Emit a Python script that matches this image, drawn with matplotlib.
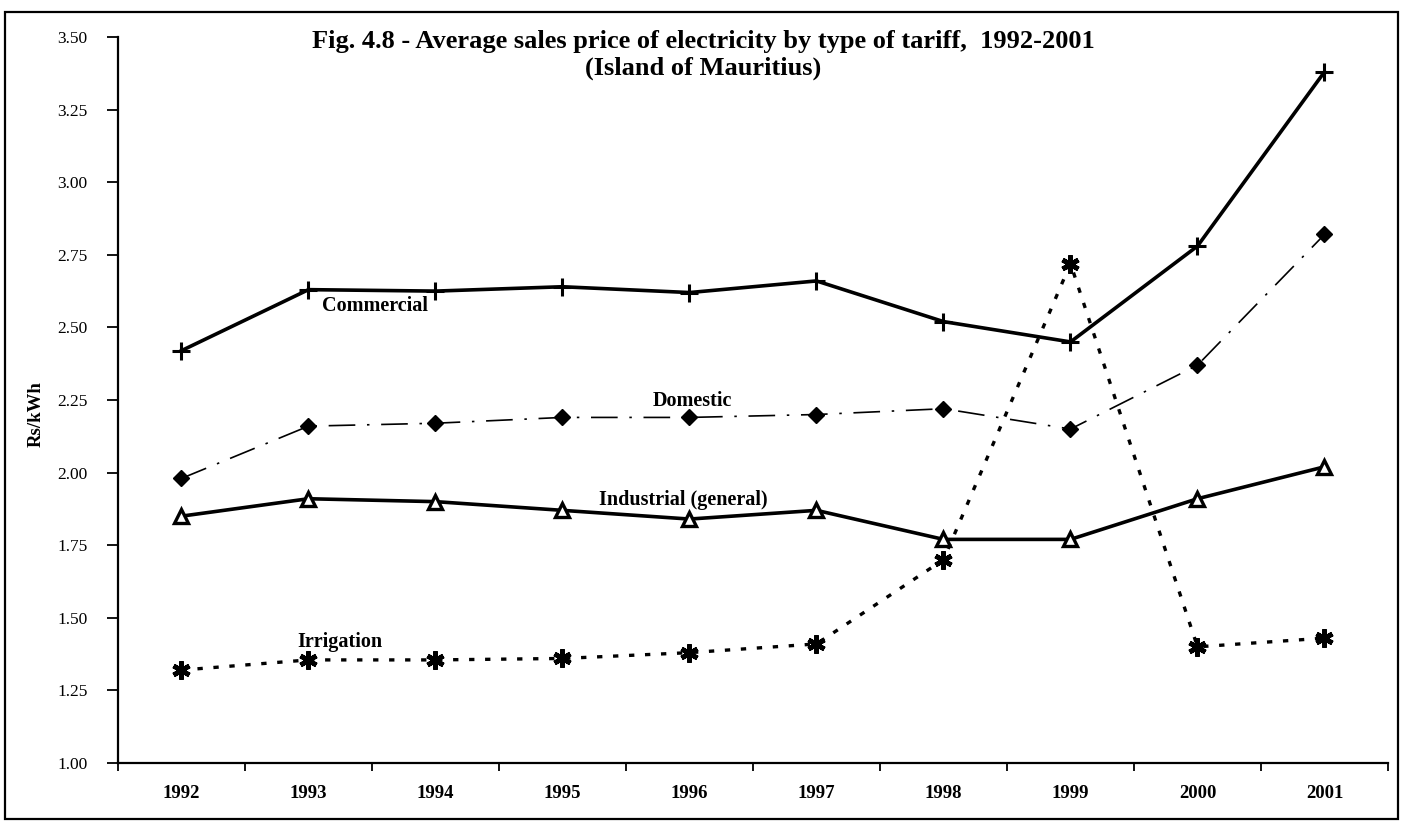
import matplotlib
matplotlib.use("Agg")
import matplotlib.pyplot as plt
from matplotlib.patches import Rectangle

years = ["1992", "1993", "1994", "1995", "1996", "1997", "1998", "1999", "2000", "2001"]
commercial = [2.42, 2.63, 2.625, 2.64, 2.62, 2.66, 2.52, 2.45, 2.78, 3.38]
domestic = [1.98, 2.16, 2.17, 2.19, 2.19, 2.20, 2.22, 2.15, 2.37, 2.82]
industrial = [1.85, 1.91, 1.90, 1.87, 1.84, 1.87, 1.77, 1.77, 1.91, 2.02]
irrigation = [1.32, 1.355, 1.355, 1.36, 1.38, 1.41, 1.70, 2.72, 1.40, 1.43]
yticks = [1.00, 1.25, 1.50, 1.75, 2.00, 2.25, 2.50, 2.75, 3.00, 3.25, 3.50]
ytick_labels = ["1.00", "1.25", "1.50", "1.75", "2.00", "2.25", "2.50", "2.75", "3.00", "3.25", "3.50"]
title = "Fig. 4.8 - Average sales price of electricity by type of tariff,  1992-2001\n(Island of Mauritius)"

SERIF = ["Liberation Serif", "DejaVu Serif"]
plt.rcParams["font.family"] = SERIF

fig = plt.figure(figsize=(14.07, 8.23), dpi=100)
ax = fig.add_axes([118 / 1407, 1 - 763 / 823, (1388 - 118) / 1407, (763 - 37) / 823])

x = list(range(len(years)))

ax.plot(x, commercial, color="black", lw=2.6, marker="+", ms=13, mew=2.2,
        solid_joinstyle="miter", zorder=3)
ax.plot(x, domestic, color="black", lw=1.2, linestyle=(0, (16, 7, 1.5, 7)),
        marker="D", ms=8.5, mfc="black", mec="black", zorder=3)
ax.plot(x, industrial, color="black", lw=2.6, marker="^", ms=10, mfc="white",
        mec="black", mew=2.4, zorder=3)
ax.plot(x, irrigation, color="black", lw=2.4, linestyle=(0, (1.6, 3.2)),
        marker=(6, 2, 0), ms=13, mew=3.4, zorder=3)

lab_kw = dict(fontsize=14.5, fontweight="bold", ha="center", va="center", family=SERIF)
ax.text(1.52, 2.575, "Commercial", **lab_kw)
ax.text(4.02, 2.245, "Domestic", **lab_kw)
ax.text(3.95, 1.905, "Industrial (general)", **lab_kw)
ax.text(1.25, 1.415, "Irrigation", **lab_kw)

ax.set_xlim(-0.5, len(years) - 0.5)
ax.set_ylim(1.0, 3.5)
ax.set_yticks(yticks)
ax.set_yticklabels(ytick_labels, fontsize=12.5)
ax.set_xticks(x)
ax.set_xticklabels(years, fontsize=13.5, fontweight="bold")
ax.set_xticks([i - 0.5 for i in range(len(years) + 1)], minor=True)
ax.tick_params(axis="x", which="major", length=0, pad=16)
ax.tick_params(axis="x", which="minor", length=6, width=1.3, direction="out")
ax.tick_params(axis="y", which="major", length=8, width=1.3, direction="out", pad=14)

for s in ["top", "right"]:
    ax.spines[s].set_visible(False)
for s in ["left", "bottom"]:
    ax.spines[s].set_linewidth(1.6)

ax.set_ylabel("Rs/kWh", fontsize=13.5, fontweight="bold")
ax.yaxis.set_label_coords(-0.058, 0.48)

fig.text(0.5, 1 - 55 / 823, title, ha="center", va="center", fontsize=19,
         fontweight="bold", linespacing=1.18)

fig.patches.append(Rectangle((5 / 1407, 1 - 819 / 823), (1398 - 5) / 1407, (819 - 12) / 823,
                             transform=fig.transFigure, fill=False, lw=1.6,
                             edgecolor="black"))

fig.savefig("out.png", dpi=100, facecolor="white")
